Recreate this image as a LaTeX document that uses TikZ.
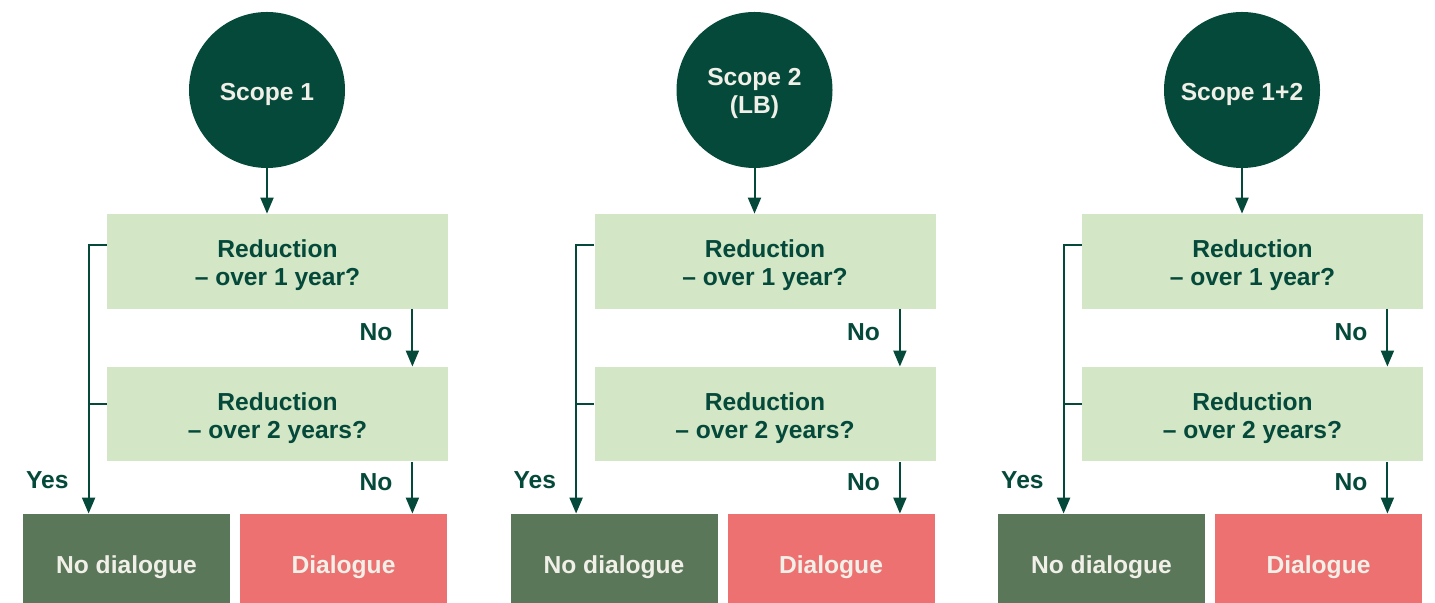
\documentclass[tikz,border=0pt]{standalone}
\usepackage{fontspec}
\setmainfont{Liberation Sans}
\usetikzlibrary{arrows.meta}
\definecolor{scopegreen}{HTML}{04493A}
\definecolor{qgreen}{HTML}{D3E6C6}
\definecolor{nodlggreen}{HTML}{5A7759}
\definecolor{dlgred}{HTML}{EC7170}
\definecolor{lighttext}{HTML}{F0F0E8}
\begin{document}
\begin{tikzpicture}[x=0.5pt,y=0.5pt,>={Triangle[length=8pt,width=6.5pt]},
    font=\fontsize{12.3}{14}\selectfont\bfseries,
    scopenode/.style={circle,fill=scopegreen,text=lighttext,minimum size=78pt,inner sep=0pt,align=center,
        text height=10.6pt,text depth=0pt},
    twolines/.style={text height=23.8pt,text depth=0pt},
    question/.style={fill=qgreen,text=scopegreen,minimum width=170.5pt,minimum height=47.25pt,inner sep=0pt,align=center,
        text height=24.2pt,text depth=0pt},
    outcome/.style={minimum width=103.5pt,minimum height=44.5pt,inner sep=0pt,text=lighttext,
        text height=15pt,text depth=0pt},
    lbl/.style={text=scopegreen,inner sep=0pt},
    flow/.style={draw=scopegreen,line width=1pt}]
    \useasboundingbox (0,0) rectangle (1435,603);
    % one column per scope
    \foreach \ox/\n/\t/\k in {0/a/{Scope 1}/{},487.5/b/{Scope 2\\(LB)}/twolines,975/c/{Scope 1+2}/{}}{
        \node[scopenode,\k] (s\n) at (\ox+267,513) {\t};
        \node[question] (qa\n) at (\ox+277.5,341.7) {Reduction\\– over 1 year?};
        \node[question] (qb\n) at (\ox+277.5,188.8) {Reduction\\– over 2 years?};
        \node[outcome,fill=nodlggreen] (nd\n) at (\ox+126.5,44.5) {No dialogue};
        \node[outcome,fill=dlgred] (dl\n) at (\ox+343.5,44.5) {Dialogue};
        \draw[flow,->] (s\n.south) -- (s\n.south |- qa\n.north);
        % yes branch
        \draw[flow,->] ([yshift=8pt]qa\n.west) -- ++(-9pt,0) coordinate (y\n)
            -- (y\n |- nd\n.north) node[lbl,pos=.877,left=9.5pt] {Yes};
        \draw[flow] ([yshift=5pt]qb\n.west) coordinate (j\n) -- (y\n |- j\n);
        % no branch
        \draw[flow,->] ([xshift=-18pt]qa\n.south east) -- ([xshift=-18pt]qb\n.north east)
            node[lbl,pos=.4,left=9.5pt] {No};
        \draw[flow,->] ([xshift=-18pt]qb\n.south east) coordinate (n\n) -- (n\n |- dl\n.north)
            node[lbl,pos=.4,left=9.5pt] {No};
    }
\end{tikzpicture}
\end{document}
